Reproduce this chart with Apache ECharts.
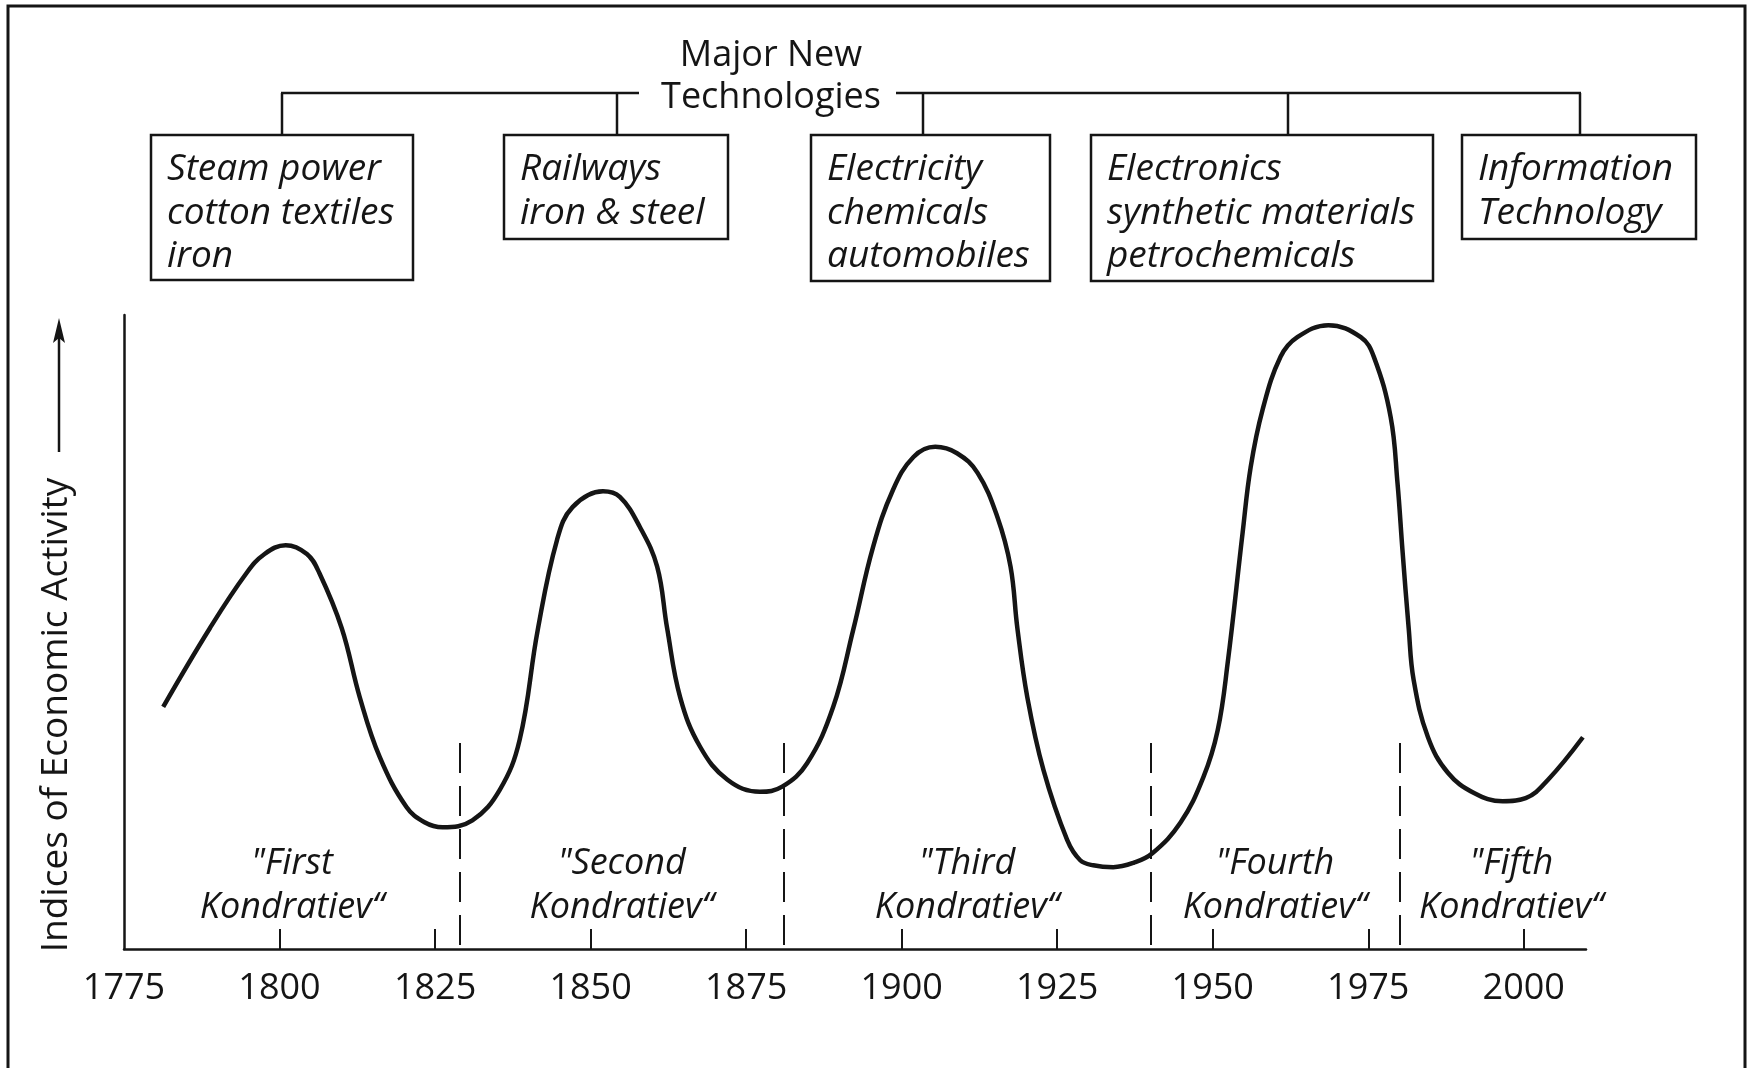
<!DOCTYPE html>
<html>
<head>
<meta charset="utf-8">
<title>Kondratiev waves</title>
<script src="https://cdn.jsdelivr.net/npm/echarts@6/dist/echarts.min.js"></script>
<style>
	html,body{margin:0;padding:0;background:#fff;}
	#chartsBox{width:1750px;height:1068px;}
</style>
</head>
<body>
<div id="chartsBox"></div>
<script>
// curve: year / index level (0 = x axis, 100 = top of y axis)
var years = [1781.3,1788.8,1794.7,1797.6,1801.0,1804.4,1806.4,1810.0,1812.9,1816.1,1820.4,1823.3,1826.2,
	1831.0,1835.4,1838.6,1841.5,1844.6,1847.1,1852.0,1854.7,1857.9,1860.7,1862.3,
	1864.4,1867.6,1872.0,1877.2,1880.8,1884.8,1889.0,1892.2,1895.4,1898.6,
	1901.9,1905.4,1908.9,1912.2,1915.4,1917.5,1918.6,1920.2,1922.8,1926.6,1928.7,1930.8,
	1934.0,1937.3,1940.3,1944.8,1948.5,1950.8,1952.4,1954.8,1956.1,1958.0,1960.9,1963.6,
	1968.6,1973.8,1975.9,1978.6,1979.7,1980.5,1981.5,1982.3,1984.6,1987.8,1992.0,
	1996.6,2000.3,2003.9,2009.5];
var activity = [38.2,50.6,59.3,62.3,63.7,62.3,59.3,50.6,39.7,30.3,22.4,20.0,19.2,
	20.3,25.1,33.0,50.3,64.5,69.7,72.2,71.3,66.6,60.3,50.6,
	39.7,31.9,26.7,24.8,25.6,29.3,38.2,50.3,63.4,72.4,
	77.6,79.2,78.2,75.1,68.1,60.3,50.6,39.7,28.2,17.2,14.0,13.2,
	12.9,13.6,15.1,19.9,27.1,34.5,45.1,65.6,76.0,85.0,93.4,96.5,
	98.4,96.5,93.4,83.9,73.5,62.9,50.6,42.4,33.4,27.8,24.6,
	23.3,23.8,26.7,33.4];

var labelYears = [1775,1800,1825,1850,1875,1900,1925,1950,1975,2000];
var tickYears = [1800,1825,1850,1875,1900,1925,1950,1975,2000];
var boundaryYears = [1829,1881,1940,1980];
var boundaryTop = 32.5;

var waveNames = ['"First\nKondratiev“','"Second\nKondratiev“','"Third\nKondratiev“','"Fourth\nKondratiev“','"Fifth\nKondratiev“'];
var waveYears = [1802,1855,1910.5,1960,1998];
var waveLevel = 10.0;

var headTitle = 'Major New\nTechnologies';
var technologies = [
	'Steam power\ncotton textiles\niron',
	'Railways\niron & steel',
	'Electricity\nchemicals\nautomobiles',
	'Electronics\nsynthetic materials\npetrochemicals',
	'Information\nTechnology'
];
var yTitle = 'Indices of Economic Activity';

var FONT = '"Open Sans","Noto Sans","DejaVu Sans",sans-serif';
var INK = '#151515';

var chartsBox = echarts.init(document.getElementById('chartsBox'));

var curveData = [];
for(var i=0;i<years.length;i++){
	curveData.push([years[i],activity[i]]);
}
//dashed boundaries
var boundaryData = [];
for(var i=0;i<boundaryYears.length;i++){
	boundaryData.push([{coord:[boundaryYears[i],boundaryTop]},{coord:[boundaryYears[i],0]}]);
}
var waveData = [];
for(var i=0;i<waveNames.length;i++){
	waveData.push({value:[waveYears[i],waveLevel],name:waveNames[i]});
}

//header boxes
var boxes = [
	{x:151,y:135,w:262,h:145},
	{x:504,y:135,w:224,h:104},
	{x:811,y:135,w:239,h:146},
	{x:1091,y:135,w:342,h:146},
	{x:1462,y:135,w:234,h:104}
];
var drops = [282,617,923,1288,1580];
var graphics = [];
graphics.push({type:'rect',shape:{x:8,y:6,width:1737,height:1100},style:{fill:'none',stroke:INK,lineWidth:3},silent:true});
for(var i=0;i<boxes.length;i++){
	var b = boxes[i];
	graphics.push({type:'rect',shape:{x:b.x,y:b.y,width:b.w,height:b.h},style:{fill:'#fff',stroke:INK,lineWidth:2.5}});
	graphics.push({type:'text',x:b.x+16,y:b.y+13,style:{text:technologies[i],fill:INK,fontFamily:FONT,fontSize:37,fontStyle:'italic',lineHeight:43.5,align:'left',verticalAlign:'top'}});
	graphics.push({type:'line',shape:{x1:drops[i],y1:93,x2:drops[i],y2:b.y},style:{stroke:INK,lineWidth:2.5}});
}
graphics.push({type:'line',shape:{x1:281,y1:93,x2:639,y2:93},style:{stroke:INK,lineWidth:2.5}});
graphics.push({type:'line',shape:{x1:896,y1:93,x2:1581,y2:93},style:{stroke:INK,lineWidth:2.5}});
graphics.push({type:'text',x:771,y:77,style:{text:headTitle,fill:INK,fontFamily:FONT,fontSize:36,lineHeight:42,align:'center',verticalAlign:'middle'}});
//y axis title + arrow
graphics.push({type:'text',x:56,y:715,rotation:Math.PI/2,style:{text:yTitle,fill:INK,fontFamily:FONT,fontSize:37,align:'center',verticalAlign:'middle'}});
graphics.push({type:'line',shape:{x1:59,y1:452,x2:59,y2:336},style:{stroke:INK,lineWidth:2.5}});
graphics.push({type:'polygon',shape:{points:[[59,318],[53,343],[59,338],[65,343]]},style:{fill:INK}});

var option = {
	animation:false,
	backgroundColor:'#fff',
	grid:{left:124,right:164,top:315,bottom:119,containLabel:false},
	xAxis:{
		type:'value',
		min:1775,
		max:2010,
		interval:25,
		axisLine:{lineStyle:{color:INK,width:2.5}},
		axisTick:{show:true,inside:true,length:20,customValues:tickYears,lineStyle:{color:INK,width:2}},
		axisLabel:{customValues:labelYears,margin:22,color:INK,fontFamily:FONT,fontSize:36,formatter:function(v){return String(v);}},
		splitLine:{show:false}
	},
	yAxis:{
		type:'value',
		min:0,
		max:100,
		axisLine:{show:true,lineStyle:{color:INK,width:2.5}},
		axisTick:{show:false},
		axisLabel:{show:false},
		splitLine:{show:false}
	},
	series:[{
		name:'activity',
		type:'line',
		data:curveData,
		smooth:0.4,
		symbol:'none',
		lineStyle:{color:INK,width:4.5},
		markLine:{
			silent:true,
			symbol:['none','none'],
			label:{show:false},
			lineStyle:{color:INK,width:2,type:[30,13]},
			data:boundaryData
		},
		z:3
	},{
		name:'waves',
		type:'scatter',
		data:waveData,
		symbolSize:1,
		itemStyle:{color:'rgba(0,0,0,0)',opacity:1},
		label:{
			show:true,
			position:'inside',
			formatter:function(p){return p.name;},
			color:INK,
			opacity:1,
			fontFamily:FONT,
			fontSize:36,
			fontStyle:'italic',
			lineHeight:44
		},
		silent:true
	}],
	graphic:graphics
};
chartsBox.setOption(option);
</script>
</body>
</html>
